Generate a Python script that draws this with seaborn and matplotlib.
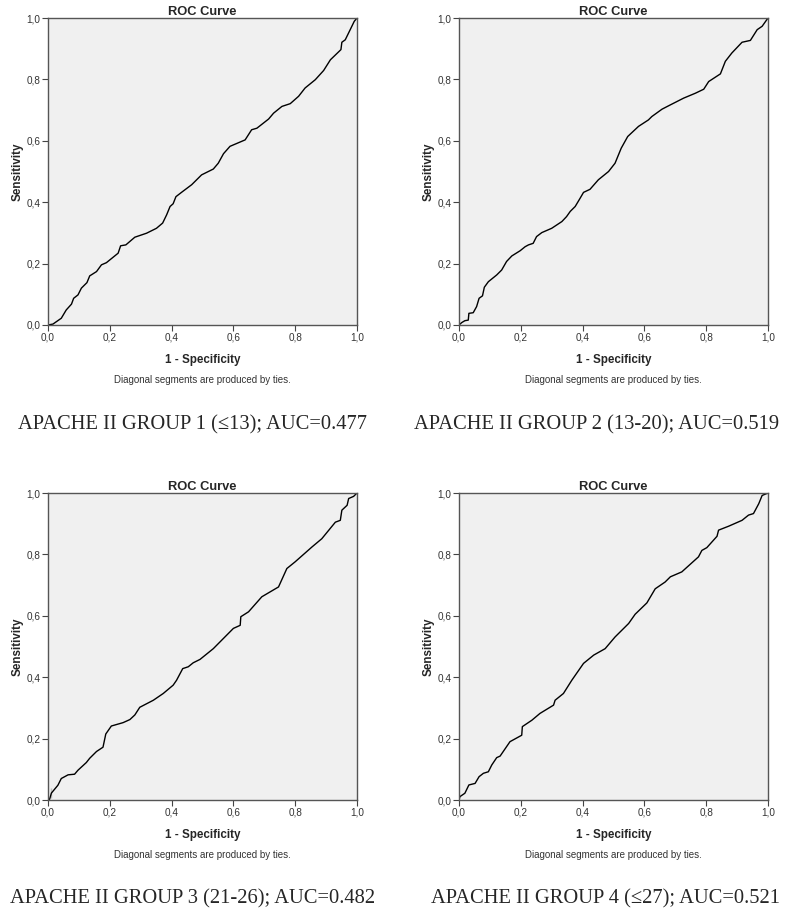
import numpy as np
import pandas as pd
import matplotlib.pyplot as plt
import seaborn as sns
from matplotlib.ticker import FuncFormatter

# ROC curves (1 - specificity, sensitivity)
g1_fpr = [0, 0.016, 0.043, 0.059, 0.076, 0.083, 0.097, 0.108, 0.126, 0.135, 0.157, 0.173, 0.189,
          0.227, 0.235, 0.252, 0.281, 0.319, 0.351, 0.371, 0.384, 0.395, 0.405, 0.414, 0.432,
          0.465, 0.497, 0.535, 0.551, 0.568, 0.589, 0.638, 0.659, 0.676, 0.714, 0.730, 0.757,
          0.784, 0.811, 0.832, 0.865, 0.892, 0.914, 0.948, 0.951, 0.962, 0.978, 0.991, 1.0]
g1_tpr = [0, 0.003, 0.022, 0.049, 0.068, 0.087, 0.098, 0.120, 0.138, 0.160, 0.174, 0.196, 0.203,
          0.234, 0.258, 0.261, 0.286, 0.299, 0.315, 0.332, 0.359, 0.386, 0.395, 0.418, 0.432,
          0.457, 0.489, 0.508, 0.527, 0.558, 0.582, 0.603, 0.636, 0.641, 0.671, 0.690, 0.712,
          0.721, 0.745, 0.772, 0.799, 0.829, 0.864, 0.897, 0.921, 0.929, 0.962, 0.989, 1.0]

g2_fpr = [0, 0.009, 0.019, 0.030, 0.032, 0.046, 0.057, 0.065, 0.076, 0.082, 0.095, 0.122, 0.138,
          0.154, 0.171, 0.198, 0.214, 0.225, 0.240, 0.251, 0.268, 0.300, 0.333, 0.348, 0.360,
          0.376, 0.392, 0.403, 0.424, 0.451, 0.484, 0.505, 0.525, 0.546, 0.581, 0.613, 0.624,
          0.657, 0.684, 0.727, 0.765, 0.792, 0.808, 0.846, 0.862, 0.883, 0.916, 0.943, 0.965,
          0.981, 1.0]
g2_tpr = [0, 0.008, 0.014, 0.016, 0.038, 0.040, 0.060, 0.087, 0.095, 0.123, 0.141, 0.163, 0.179,
          0.207, 0.225, 0.242, 0.255, 0.261, 0.266, 0.288, 0.301, 0.315, 0.337, 0.353, 0.370,
          0.386, 0.413, 0.432, 0.442, 0.473, 0.500, 0.527, 0.576, 0.614, 0.647, 0.668, 0.679,
          0.703, 0.717, 0.739, 0.755, 0.768, 0.793, 0.818, 0.859, 0.886, 0.921, 0.927, 0.962,
          0.973, 1.0]

g3_fpr = [0, 0.005, 0.011, 0.011, 0.032, 0.043, 0.065, 0.086, 0.097, 0.124, 0.135, 0.157, 0.178,
          0.187, 0.205, 0.243, 0.265, 0.281, 0.297, 0.341, 0.373, 0.405, 0.416, 0.436, 0.454,
          0.470, 0.492, 0.535, 0.600, 0.622, 0.624, 0.649, 0.692, 0.746, 0.773, 0.800, 0.854,
          0.886, 0.930, 0.946, 0.951, 0.968, 0.973, 0.989, 1.0]
g3_tpr = [0, 0.002, 0.005, 0.040, 0.048, 0.070, 0.082, 0.084, 0.097, 0.122, 0.136, 0.158, 0.172,
          0.215, 0.241, 0.252, 0.262, 0.277, 0.302, 0.325, 0.347, 0.374, 0.390, 0.428, 0.434,
          0.447, 0.458, 0.493, 0.559, 0.569, 0.597, 0.613, 0.662, 0.694, 0.754, 0.776, 0.824,
          0.851, 0.905, 0.911, 0.944, 0.960, 0.982, 0.989, 1.0]

g4_fpr = [0, 0.003, 0.019, 0.032, 0.052, 0.065, 0.079, 0.095, 0.106, 0.122, 0.133, 0.165, 0.203,
          0.205, 0.236, 0.262, 0.306, 0.311, 0.338, 0.365, 0.403, 0.436, 0.473, 0.505, 0.549,
          0.570, 0.608, 0.635, 0.667, 0.684, 0.721, 0.775, 0.786, 0.802, 0.835, 0.840, 0.873,
          0.916, 0.937, 0.953, 0.970, 0.981, 1.0]
g4_tpr = [0, 0.011, 0.022, 0.049, 0.054, 0.076, 0.087, 0.092, 0.114, 0.138, 0.143, 0.190, 0.211,
          0.239, 0.260, 0.282, 0.309, 0.325, 0.347, 0.390, 0.445, 0.472, 0.493, 0.531, 0.575,
          0.605, 0.642, 0.688, 0.710, 0.727, 0.743, 0.792, 0.813, 0.822, 0.859, 0.879, 0.892,
          0.911, 0.928, 0.933, 0.965, 0.992, 1.0]

captions = ["APACHE II GROUP 1 (\u226413); AUC=0.477",
            "APACHE II GROUP 2 (13-20); AUC=0.519",
            "APACHE II GROUP 3 (21-26); AUC=0.482",
            "APACHE II GROUP 4 (\u226427); AUC=0.521"]
tick_vals = [0.0, 0.2, 0.4, 0.6, 0.8, 1.0]

sns.set_style("white")
plt.rcParams['font.family'] = ['Liberation Sans', 'DejaVu Sans']

W, H = 790, 913
fig = plt.figure(figsize=(W / 100, H / 100), dpi=100)

curves = [(g1_fpr, g1_tpr), (g2_fpr, g2_tpr), (g3_fpr, g3_tpr), (g4_fpr, g4_tpr)]
# axes boxes in pixels: left, top, right, bottom
boxes = [(48, 18, 357, 325), (459, 18, 768, 325), (48, 493, 357, 800), (459, 493, 768, 800)]
# caption centre x and baseline y, pixels
cap_pos = [(192.5, 429), (597, 429), (192.5, 903), (605.5, 903)]

comma = FuncFormatter(lambda v, p: f"{v:.1f}".replace(".", ","))

for i, ((fpr, tpr), (l, t, r, b)) in enumerate(zip(curves, boxes)):
    ax = fig.add_axes([l / W, (H - b) / H, (r - l) / W, (b - t) / H])
    df = pd.DataFrame({"fpr": fpr, "tpr": tpr})
    sns.lineplot(data=df, x="fpr", y="tpr", sort=False, color="black", linewidth=1.0, ax=ax)
    ax.set_facecolor("#f0f0f0")
    ax.set_xlim(0, 1)
    ax.set_ylim(0, 1)
    ax.set_xticks(tick_vals)
    ax.set_yticks(tick_vals)
    ax.xaxis.set_major_formatter(comma)
    ax.yaxis.set_major_formatter(comma)
    ax.tick_params(axis="both", direction="out", length=4, width=0.8, color="#444444",
                   labelsize=7.2, labelcolor="#333333", pad=1.5, bottom=True, left=True)
    for sp in ax.spines.values():
        sp.set_color("#555555")
        sp.set_linewidth(1.0)
    ax.set_title("ROC Curve", fontsize=9.3, fontweight="bold", pad=2)
    ax.set_xlabel("1 - Specificity", fontsize=8.4, fontweight="bold", labelpad=8)
    ax.set_ylabel("Sensitivity", fontsize=8.4, fontweight="bold", labelpad=2)
    cx = (l + r) / 2
    fig.text(cx / W, 1 - (b + 55) / H, "Diagonal segments are produced by ties.",
             ha="center", va="center", fontsize=7, color="#333333")
    px, py = cap_pos[i]
    fig.text(px / W, 1 - py / H, captions[i], ha="center", va="baseline",
             fontsize=14.8, family=['Liberation Serif', 'DejaVu Serif'])

fig.savefig("out.png", dpi=100)
